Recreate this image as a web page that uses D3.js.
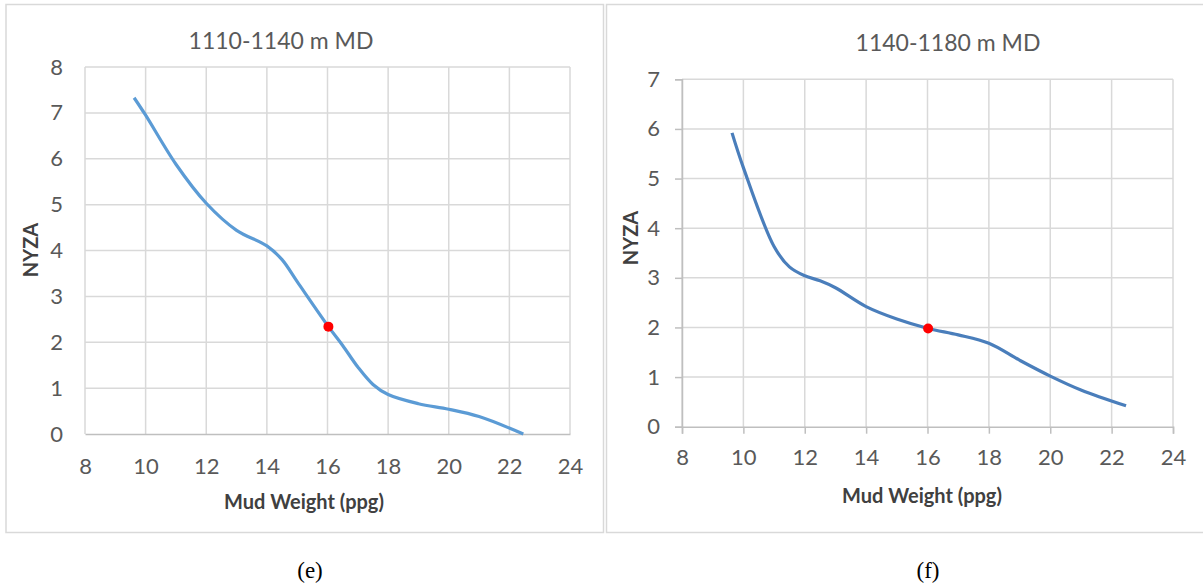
<!DOCTYPE html>
<html>
<head>
<meta charset="utf-8">
<script src="https://cdn.jsdelivr.net/npm/d3@7"></script>
<style>
  body { margin: 0; background: #fff; }
  svg text { font-family: Lato, "Open Sans", sans-serif; }
</style>
</head>
<body>
<svg id="chart" width="1203" height="585"></svg>
<script>
// data
const xTicks = [8, 10, 12, 14, 16, 18, 20, 22, 24]

const xE = [9.62, 10, 11, 12, 13, 14, 14.5, 15, 16.03, 16.5, 17, 17.5, 18, 19, 20, 21, 22.46]
const yE = [7.33, 6.95, 5.88, 5.03, 4.44, 4.1, 3.8, 3.32, 2.34, 1.93, 1.46, 1.08, 0.86, 0.66, 0.54, 0.38, 0]
const markE = [16.03, 2.34]
const yTicksE = [0, 1, 2, 3, 4, 5, 6, 7, 8]

const xF = [9.63, 10, 11, 11.5, 12, 12.5, 13, 14, 15, 16.02, 17, 18, 19, 20, 21, 22.47]
const yF = [5.92, 5.22, 3.63, 3.22, 3.04, 2.94, 2.8, 2.42, 2.17, 1.98, 1.85, 1.68, 1.34, 1.02, 0.74, 0.42]
const markF = [16.02, 1.98]
const yTicksF = [0, 1, 2, 3, 4, 5, 6, 7]

const svg = d3.select('#chart')
const gridColor = '#d9d9d9'
const labelColor = '#595959'

svg.append('rect').attr('width', 1203).attr('height', 585).attr('fill', '#fff')

const drawPanel = (p) => {
	// outer frame
	svg.append('rect')
		.attr('x', p.frame[0]).attr('y', 4.5)
		.attr('width', p.frame[1] - p.frame[0]).attr('height', 528)
		.attr('fill', 'none')
		.attr('stroke', gridColor)
		.attr('stroke-width', 1.5)

	const xScale = d3.scaleLinear().domain([8, 24]).range(p.xr)
	const yScale = d3.scaleLinear().domain([0, d3.max(p.yTicks)]).range(p.yr)

	const g = svg.append('g')

	// grid
	g.selectAll('line.vg').data(xTicks).enter().append('line')
		.attr('x1', d => xScale(d)).attr('x2', d => xScale(d))
		.attr('y1', p.yr[1]).attr('y2', p.yr[0])
		.attr('stroke', gridColor).attr('stroke-width', 1.5)
	g.selectAll('line.hg').data(p.yTicks.slice(1)).enter().append('line')
		.attr('x1', p.xr[0]).attr('x2', p.xr[1])
		.attr('y1', d => yScale(d)).attr('y2', d => yScale(d))
		.attr('stroke', gridColor).attr('stroke-width', 1.5)

	// axes
	const xAxis = d3.axisBottom(xScale).tickValues(xTicks).tickFormat(d3.format('d'))
		.tickSize(p.ticks ? 7 : 0).tickPadding(p.xPad)
	const yAxis = d3.axisLeft(yScale).tickValues(p.yTicks).tickFormat(d3.format('d'))
		.tickSize(p.ticks ? 7 : 0).tickPadding(p.yPad)

	const gx = g.append('g').attr('transform', `translate(0, ${p.yr[0]})`).call(xAxis)
	const gy = g.append('g').attr('transform', `translate(${p.xr[0]}, 0)`).call(yAxis)

	gx.select('path.domain').attr('stroke', '#bfbfbf').attr('stroke-width', 1.5)
	gy.select('path.domain').attr('stroke', p.ticks ? '#bfbfbf' : 'none').attr('stroke-width', 1.5)
	g.selectAll('.tick line').attr('stroke', '#bfbfbf').attr('stroke-width', 1.5)
	g.selectAll('.tick text')
		.style('font-size', '22px')
		.style('font-family', 'Lato, sans-serif')
		.attr('fill', labelColor)

	// curve
	const pts = p.xs.map((x, i) => [x, p.ys[i]])
	const line = d3.line()
		.x(d => xScale(d[0]))
		.y(d => yScale(d[1]))
		.curve(d3.curveCatmullRom.alpha(0.5))

	g.append('path')
		.attr('d', line(pts))
		.attr('fill', 'none')
		.attr('stroke', p.color)
		.attr('stroke-width', 3.2)

	g.append('circle')
		.attr('cx', xScale(p.mark[0]))
		.attr('cy', yScale(p.mark[1]))
		.attr('r', 5)
		.attr('fill', '#ff0000')

	// texts
	svg.append('text')
		.attr('x', p.titlePos[0]).attr('y', p.titlePos[1])
		.attr('text-anchor', 'middle').attr('dominant-baseline', 'central')
		.style('font-size', '23px')
		.attr('fill', labelColor)
		.text(p.title)

	svg.append('text')
		.attr('x', p.xTitlePos[0]).attr('y', p.xTitlePos[1])
		.attr('text-anchor', 'middle').attr('dominant-baseline', 'central')
		.style('font-size', '20px').style('font-weight', 'bold')
		.attr('fill', '#404040')
		.text('Mud Weight (ppg)')

	svg.append('text')
		.attr('transform', `translate(${p.yTitlePos[0]}, ${p.yTitlePos[1]}) rotate(-90)`)
		.attr('text-anchor', 'middle').attr('dominant-baseline', 'central')
		.style('font-size', '20px').style('font-weight', 'bold')
		.attr('fill', '#404040')
		.text('NYZA')

	svg.append('text')
		.attr('x', p.capPos[0]).attr('y', p.capPos[1])
		.attr('text-anchor', 'middle').attr('dominant-baseline', 'central')
		.style('font-size', '23px')
		.style('font-family', '"Liberation Serif", "Times New Roman", serif')
		.attr('fill', '#000')
		.text(p.caption)
}

drawPanel({
	frame: [6, 603.5],
	xr: [85, 570], yr: [434, 67],
	yTicks: yTicksE, xs: xE, ys: yE, mark: markE,
	color: '#5b9bd5', ticks: false, xPad: 24, yPad: 22,
	title: '1110-1140 m MD', titlePos: [281, 40],
	xTitlePos: [304, 501], yTitlePos: [30, 250],
	caption: '(e)', capPos: [310, 570]
})

drawPanel({
	frame: [606.5, 1215],
	xr: [682, 1173], yr: [426.7, 79.3],
	yTicks: yTicksF, xs: xF, ys: yF, mark: markF,
	color: '#4a7ebb', ticks: true, xPad: 16, yPad: 15,
	title: '1140-1180 m MD', titlePos: [948, 42],
	xTitlePos: [922, 495], yTitlePos: [630, 238],
	caption: '(f)', capPos: [928, 570]
})
</script>
</body>
</html>
